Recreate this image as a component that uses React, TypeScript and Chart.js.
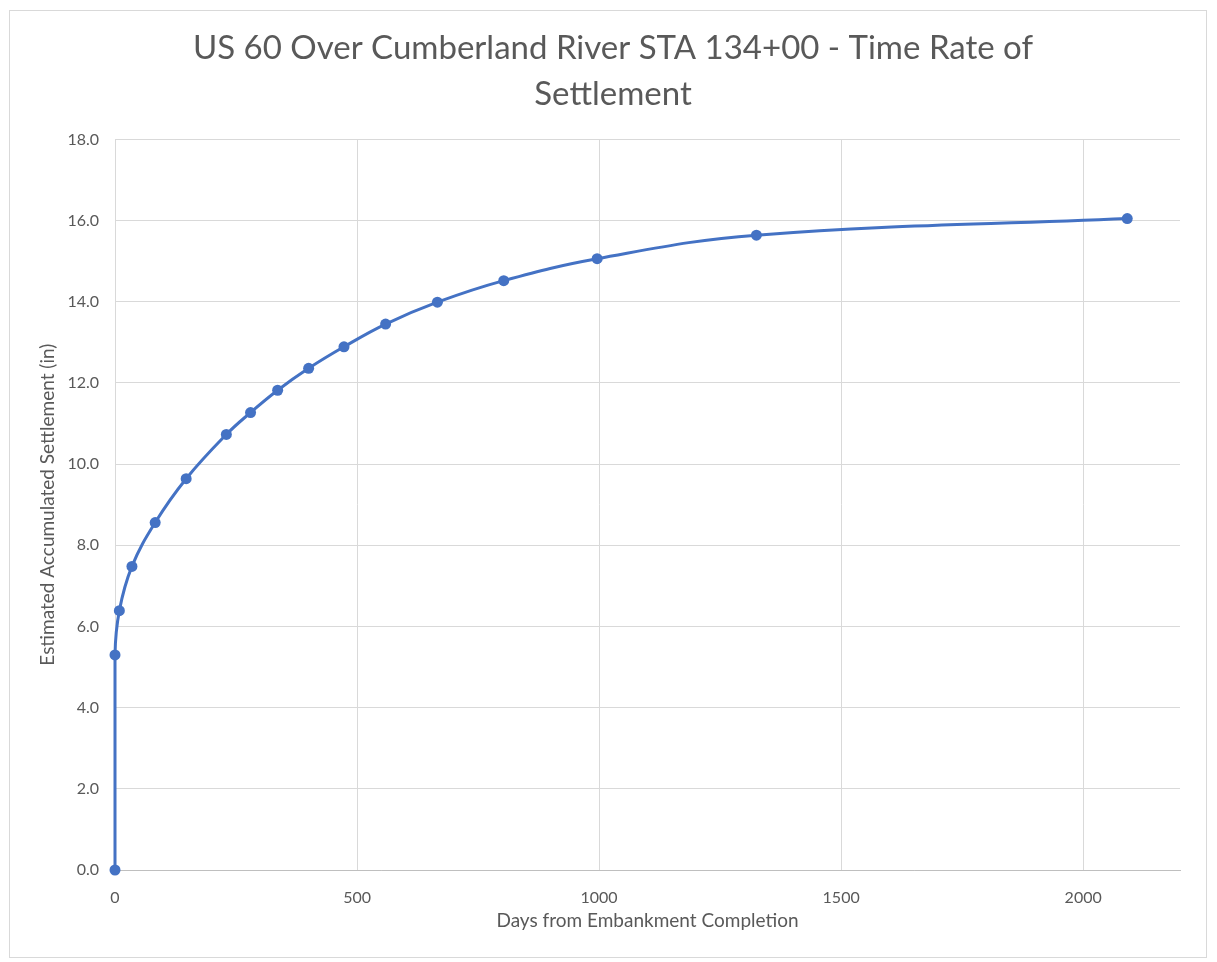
import React, { useEffect, useRef } from "react";
import { Chart, registerables } from "chart.js";

Chart.register(...registerables);

const titleLines = ["US 60 Over Cumberland River STA 134+00 - Time Rate of", "Settlement"];
const xAxisTitle = "Days from Embankment Completion";
const yAxisTitle = "Estimated Accumulated Settlement (in)";

const days = [0, 0, 9, 35, 83, 147, 230, 280, 336, 400, 473, 559, 666, 803, 996, 1325, 2091];
const settlement = [0, 5.3, 6.39, 7.48, 8.56, 9.64, 10.73, 11.27, 11.82, 12.36, 12.89, 13.45, 13.99, 14.52, 15.06, 15.64, 16.05];

const xTicks = [0, 500, 1000, 1500, 2000];
const yTicks = [0, 2, 4, 6, 8, 10, 12, 14, 16, 18];
const xMin = 0;
const xMax = 2200;
const yMin = 0;
const yMax = 18;

const BLUE = "#4472C4";
const TEXT = "#595959";
const GRID = "#d9d9d9";
const FONT = "Lato, 'Open Sans', sans-serif";

export default function App() {
  const ref = useRef<HTMLCanvasElement | null>(null);

  useEffect(() => {
    if (!ref.current) return;
    const points = days.map((d, i) => ({ x: d, y: settlement[i] }));
    const chart = new Chart(ref.current, {
      type: "scatter",
      data: {
        datasets: [
          {
            data: points,
            showLine: true,
            borderColor: BLUE,
            backgroundColor: BLUE,
            borderWidth: 3,
            pointRadius: 5.5,
            pointBorderWidth: 0,
            tension: 0.4,
            clip: false,
          },
        ],
      },
      options: {
        responsive: false,
        animation: false,
        layout: { padding: { left: 36, right: 26, top: 0, bottom: 0 } },
        plugins: {
          legend: { display: false },
          tooltip: { enabled: false },
          title: {
            display: true,
            text: titleLines,
            color: TEXT,
            font: { family: FONT, size: 33, weight: "normal", lineHeight: 1.4 },
            padding: { top: 14, bottom: 22 },
          },
        },
        scales: {
          x: {
            type: "linear",
            min: xMin,
            max: xMax,
            afterFit: (s: any) => {
              s.height = 87;
            },
            afterBuildTicks: (s: any) => {
              s.ticks = xTicks.map((v) => ({ value: v }));
            },
            ticks: {
              color: TEXT,
              padding: 18,
              font: { family: FONT, size: 16 },
              callback: (v: any) => String(v),
            },
            grid: { color: GRID, drawTicks: false, lineWidth: 1 },
            border: { display: true, color: "#bfbfbf", width: 1 },
            title: {
              display: true,
              text: xAxisTitle,
              color: TEXT,
              font: { family: FONT, size: 19 },
              padding: { top: 0, bottom: 25 },
            },
          },
          y: {
            type: "linear",
            min: yMin,
            max: yMax,
            afterFit: (s: any) => {
              s.width = 69;
            },
            afterBuildTicks: (s: any) => {
              s.ticks = yTicks.map((v) => ({ value: v }));
            },
            ticks: {
              color: TEXT,
              padding: 16,
              font: { family: FONT, size: 16 },
              callback: (v: any) => Number(v).toFixed(1),
            },
            grid: { color: GRID, drawTicks: false, lineWidth: 1 },
            border: { display: true, color: GRID, width: 1 },
            title: {
              display: true,
              text: yAxisTitle,
              color: TEXT,
              font: { family: FONT, size: 19 },
              padding: { top: -9.4, bottom: 0 },
            },
          },
        },
      },
    });
    return () => chart.destroy();
  }, []);

  return (
    <div
      style={{
        position: "absolute",
        left: 9,
        top: 10,
        width: 1198,
        height: 948,
        boxSizing: "border-box",
        border: "1px solid #d9d9d9",
        background: "#fff",
      }}
    >
      <canvas ref={ref} width={1196} height={946} style={{ display: "block" }} />
    </div>
  );
}
